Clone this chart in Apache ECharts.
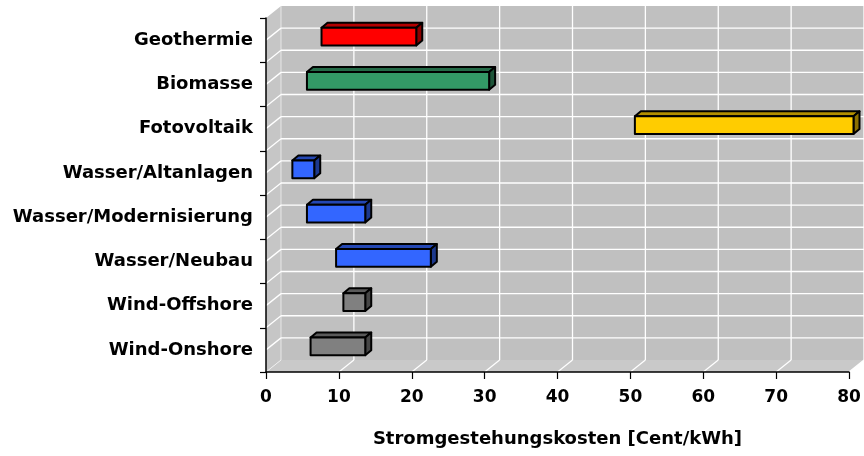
<!DOCTYPE html>
<html>
<head>
<meta charset="utf-8">
<script src="https://cdn.jsdelivr.net/npm/echarts@6/dist/echarts.min.js"></script>
<style>
  html, body { margin: 0; padding: 0; background: #fff; }
  #chart { width: 864px; height: 456px; }
</style>
</head>
<body>
<div id="chart"></div>
<script>
// Stromgestehungskosten je Technologie (von / bis, Cent/kWh)
var categories = ['Geothermie', 'Biomasse', 'Fotovoltaik', 'Wasser/Altanlagen',
  'Wasser/Modernisierung', 'Wasser/Neubau', 'Wind-Offshore', 'Wind-Onshore'];
var costMin = [7, 5, 50, 3, 5, 9, 10, 5.5];
var costMax = [20, 30, 80, 6, 13, 22, 13, 13];
var xTicks = [0, 10, 20, 30, 40, 50, 60, 70, 80];

var barColors = ['#ff0000', '#339966', '#ffcc00', '#3366ff', '#3366ff', '#3366ff', '#808080', '#808080'];

// 3D-Tiefe der Wand und der Balken (px)
var wallDx = 15, wallDy = -12;
var barDx = 6, barDy = -5;
var FONT = 'DejaVu Sans';

function shade(hex, f) {
  var n = parseInt(hex.slice(1), 16);
  var r = Math.round(((n >> 16) & 255) * f);
  var g = Math.round(((n >> 8) & 255) * f);
  var b = Math.round((n & 255) * f);
  return 'rgb(' + r + ',' + g + ',' + b + ')';
}

function seg(xa, ya, xb, yb, st) {
  return { type: 'line', shape: { x1: xa, y1: ya, x2: xb, y2: yb }, style: Object.assign({ fill: null }, st) };
}

var barData = categories.map(function (c, i) { return [i, costMin[i], costMax[i]]; });

var chart = echarts.init(document.getElementById('chart'));

chart.setOption({
  animation: false,
  grid: { left: 266, right: 15, top: 18, bottom: 84 },
  xAxis: {
    type: 'value', min: 0, max: 80, interval: 10,
    splitLine: { show: false },
    axisLine: { show: true, lineStyle: { color: '#000', width: 1.5 } },
    axisTick: { show: true, length: 7, lineStyle: { color: '#000', width: 1.2 } },
    axisLabel: { color: '#000', fontFamily: FONT, fontWeight: 'bold', fontSize: 17, margin: 17 },
    name: 'Stromgestehungskosten [Cent/kWh]',
    nameLocation: 'middle', nameGap: 58,
    nameTextStyle: { color: '#000', fontFamily: FONT, fontWeight: 'bold', fontSize: 18 }
  },
  yAxis: {
    type: 'category', data: categories, inverse: true,
    axisLine: { show: true, lineStyle: { color: '#000', width: 1.5 } },
    axisTick: { show: true, length: 6, lineStyle: { color: '#000', width: 1.2 } },
    axisLabel: { color: '#000', fontFamily: FONT, fontWeight: 'bold', fontSize: 18, margin: 13 },
    splitLine: { show: false }
  },
  series: [
    {
      // Rückwand, Seitenwand, Boden und Gitternetz
      type: 'custom', z: -1, silent: true,
      data: [[0, 0]],
      encode: { x: 0, y: 1 },
      renderItem: function (params, api) {
        var cs = params.coordSys;
        var x0 = cs.x, x1 = cs.x + cs.width, y0 = cs.y, y1 = cs.y + cs.height;
        var band = api.size([0, 1])[1];
        var kids = [];
        kids.push({ type: 'rect', shape: { x: x0 + wallDx, y: y0 + wallDy, width: x1 - x0, height: y1 - y0 },
          style: { fill: '#c0c0c0' } });
        kids.push({ type: 'polygon', shape: { points: [[x0, y0], [x0 + wallDx, y0 + wallDy], [x0 + wallDx, y1 + wallDy], [x0, y1]] },
          style: { fill: '#c6c6c6' } });
        kids.push({ type: 'polygon', shape: { points: [[x0, y1], [x1, y1], [x1 + wallDx, y1 + wallDy], [x0 + wallDx, y1 + wallDy]] },
          style: { fill: '#c9c9c9' } });
        var gl = { stroke: '#ffffff', lineWidth: 1.3 };
        for (var k = 1; k < categories.length * 2; k++) {
          var y = y0 + k * band / 2;
          kids.push(seg(x0, y, x0 + wallDx, y + wallDy, gl));
          kids.push(seg(x0 + wallDx, y + wallDy, x1 + wallDx, y + wallDy, gl));
        }
        xTicks.forEach(function (v) {
          var x = api.coord([v, 0])[0];
          var st = v === 0 ? { stroke: 'rgba(255,255,255,0.6)', lineWidth: 1 } : gl;
          kids.push(seg(x, y1, x + wallDx, y1 + wallDy, st));
          kids.push(seg(x + wallDx, y1 + wallDy, x + wallDx, y0 + wallDy, st));
        });
        return { type: 'group', children: kids };
      }
    },
    {
      // 3D-Balken von ... bis
      type: 'custom', z: 3,
      data: barData,
      encode: { x: [1, 2], y: 0 },
      renderItem: function (params, api) {
        var idx = api.value(0);
        var pa = api.coord([api.value(1), idx]);
        var pb = api.coord([api.value(2), idx]);
        var h = api.size([0, 1])[1] * 0.4;
        var offX = (wallDx - barDx) / 2, offY = (wallDy - barDy) / 2;
        var xa = pa[0] + offX, xb = pb[0] + offX;
        var yt = pa[1] + offY - h / 2, yb = yt + h;
        var col = barColors[idx];
        var line = { stroke: '#000', lineWidth: 2, lineJoin: 'round' };
        return {
          type: 'group',
          children: [
            { type: 'polygon', shape: { points: [[xa, yt], [xa + barDx, yt + barDy], [xb + barDx, yt + barDy], [xb, yt]] },
              style: Object.assign({ fill: shade(col, 0.7) }, line) },
            { type: 'polygon', shape: { points: [[xb, yt], [xb + barDx, yt + barDy], [xb + barDx, yb + barDy], [xb, yb]] },
              style: Object.assign({ fill: shade(col, 0.55) }, line) },
            { type: 'rect', shape: { x: xa, y: yt, width: xb - xa, height: h },
              style: Object.assign({ fill: col }, line) }
          ]
        };
      }
    }
  ]
});
</script>
</body>
</html>
